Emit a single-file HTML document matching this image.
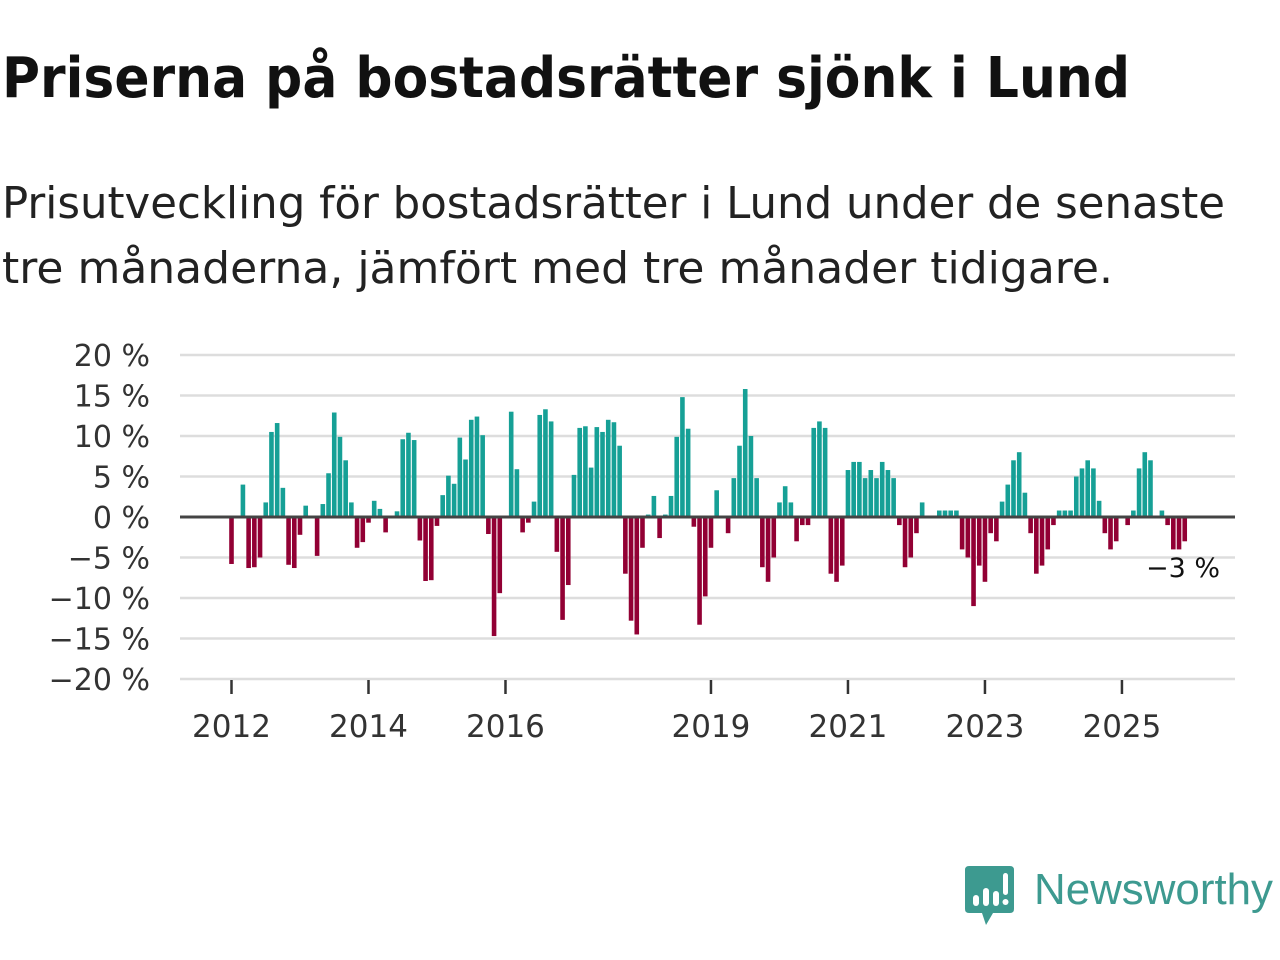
<!DOCTYPE html>
<html><head><meta charset="utf-8">
<style>
body{margin:0;width:1280px;height:960px;background:#fff;overflow:hidden;font-family:"DejaVu Sans","Liberation Sans",sans-serif;color:#111}
svg{position:absolute;left:0;top:0}
</style></head>
<body>
<svg width="1280" height="320">
  <text x="2" y="97" font-size="56" font-weight="bold" fill="#111" font-family="'DejaVu Sans',sans-serif" textLength="1128" lengthAdjust="spacingAndGlyphs">Priserna på bostadsrätter sjönk i Lund</text>
  <text x="2" y="218" font-size="44" fill="#222" font-family="'DejaVu Sans',sans-serif" textLength="1223" lengthAdjust="spacingAndGlyphs">Prisutveckling för bostadsrätter i Lund under de senaste</text>
  <text x="2" y="283" font-size="44" fill="#222" font-family="'DejaVu Sans',sans-serif" textLength="1111" lengthAdjust="spacingAndGlyphs">tre månaderna, jämfört med tre månader tidigare.</text>
</svg>
<svg id="chart" width="1280" height="960"></svg>
<script>
const values = [-5.8,0,4,-6.3,-6.2,-5,1.8,10.5,11.6,3.6,-5.9,-6.3,
-2.2,1.4,0,-4.8,1.6,5.4,12.9,9.9,7,1.8,-3.8,-3.1,
-0.7,2,1,-1.9,0,0.7,9.6,10.4,9.5,-2.9,-7.9,-7.8,
-1.1,2.7,5.1,4.1,9.8,7.1,12,12.4,10.1,-2.1,-14.7,-9.4,
0,13,5.9,-1.9,-0.7,1.9,12.6,13.3,11.8,-4.3,-12.7,-8.4,
5.2,11,11.2,6.1,11.1,10.5,12,11.7,8.8,-7,-12.8,-14.5,
-3.8,0.3,2.6,-2.6,0.3,2.6,9.9,14.8,10.9,-1.2,-13.3,-9.8,
-3.8,3.3,0,-2,4.8,8.8,15.8,10,4.8,-6.2,-8,-5,
1.8,3.8,1.8,-3,-1,-1,11,11.8,11,-7,-8,-6,
5.8,6.8,6.8,4.8,5.8,4.8,6.8,5.8,4.8,-1,-6.2,-5,
-2,1.8,0,0,0.8,0.8,0.8,0.8,-4,-5,-11,-6,
-8,-2,-3,1.9,4,7,8,3,-2,-7,-6,-4,
-1,0.8,0.8,0.8,5,6,7,6,2,-2,-4,-3,
0,-1,0.8,6,8,7,0,0.8,-1,-4,-4,-3];
const startYear = 2012;
const yTicks = [20,15,10,5,0,-5,-10,-15,-20];
const xTickYears = [2012,2014,2016,2019,2021,2023,2025];
const lastLabel = "−3 %";

const NS="http://www.w3.org/2000/svg";
const svg=document.getElementById('chart');
const X0=180,X1=1235;
const FF="'DejaVu Sans','Liberation Sans',sans-serif";
function y(v){return 517 - v*8.1;}
function xMonth(i){return 231.5 + i*5.708;}
function xYear(yr){return xMonth((yr-startYear)*12);}
function mk(tag,attrs){const e=document.createElementNS(NS,tag);for(const k in attrs)e.setAttribute(k,attrs[k]);svg.appendChild(e);return e;}

yTicks.forEach(t=>{
  const g=mk('line',{x1:X0,x2:X1,y1:y(t),y2:y(t),stroke:'#dddddd','stroke-width':2.5});
  
  
  const lb=mk('text',{x:150,y:y(t)+11,'text-anchor':'end','font-size':30,fill:'#333','font-family':FF});
  lb.textContent=(t<0?'−'+(-t):t)+' %';
  
  
});
xTickYears.forEach(yr=>{
  const x=xYear(yr);
  const tk=mk('line',{x1:x,x2:x,y1:680,y2:694,stroke:'#333','stroke-width':2.5});
  
  
  const lb=mk('text',{x:x,y:737,'text-anchor':'middle','font-size':31,fill:'#333','font-family':FF});
  lb.textContent=yr;
  
  
});
values.forEach((v,i)=>{
  if(v===0)return;
  const top=v>0?y(v):y(0), h=Math.abs(y(v)-y(0));
  const r=mk('rect',{x:xMonth(i)-2.3,y:top,width:4.6,height:h,fill:v>0?'#16a096':'#920034'});
  
  
});
const zl=mk('line',{x1:X0,x2:X1,y1:y(0),y2:y(0),stroke:'#444','stroke-width':3});


const ll=mk('text',{x:1220,y:577,'text-anchor':'end','font-size':27,fill:'#111','font-family':FF});
ll.textContent=lastLabel;


</script>
<svg width="1280" height="960" style="pointer-events:none">
  <path d="M969 866 H1010 Q1014 866 1014 870 V909 Q1014 913 1010 913 H993 L986 925 L982 913 H969 Q965 913 965 909 V870 Q965 866 969 866Z" fill="#3d9a90"/>
  <rect x="973" y="895" width="6" height="11" rx="3" fill="#fff"/>
  <rect x="983" y="888" width="6" height="18" rx="3" fill="#fff"/>
  <rect x="993" y="891" width="6" height="15" rx="3" fill="#fff"/>
  <rect x="1003" y="873" width="5" height="22" rx="2.5" fill="#fff"/>
  <circle cx="1005.5" cy="902" r="3" fill="#fff"/>
  <text x="1034" y="904" font-size="44" fill="#3d9a90" font-family="'Liberation Sans',sans-serif" textLength="239" lengthAdjust="spacingAndGlyphs">Newsworthy</text>
</svg>
</body></html>
